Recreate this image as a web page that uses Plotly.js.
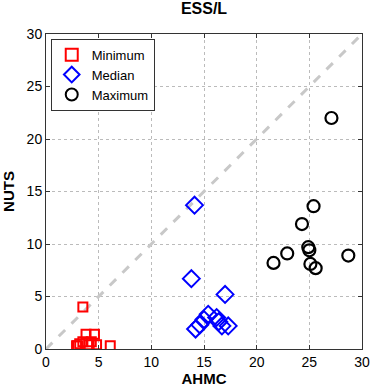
<!DOCTYPE html>
<html>
<head>
<meta charset="utf-8">
<script src="https://cdn.plot.ly/plotly-3.0.1.min.js"></script>
<style>
  html, body { margin: 0; padding: 0; background: #fff; }
  #chart { width: 374px; height: 390px; }
</style>
</head>
<body>
<div id="chart"></div>
<script>
// ESS/L values
const min_x = [3.5, 3.8, 4.6, 6.1, 2.9, 3.2, 3.5, 4.1, 4.3, 4.8, 3.0];
const min_y = [4.0, 1.4, 1.4, 0.3, 0.3, 0.5, 0.7, 0.4, 0.7, 0.4, 0.3];

const med_x = [14.1, 13.8, 17.0, 15.4, 15.0, 14.6, 14.2, 16.2, 16.4, 16.7, 17.3];
const med_y = [13.7, 6.7, 5.2, 3.3, 2.8, 2.3, 1.9, 3.0, 2.6, 2.2, 2.2];

const max_x = [27.1, 25.4, 24.3, 24.9, 25.0, 22.9, 21.6, 28.7, 25.1, 25.6];
const max_y = [22.0, 13.6, 11.9, 9.7, 9.4, 9.1, 8.2, 8.9, 8.1, 7.7];

const diag = [0, 30];

const font = "Liberation Sans, Arial, sans-serif";

const diagonal = {
    x: diag,
    y: diag,
    mode: "lines",
    type: "scatter",
    showlegend: false,
    hoverinfo: "skip",
    line: { color: "#c8c8c8", width: 3, dash: "dash" },
};

const minimum = {
    name: "Minimum",
    x: min_x,
    y: min_y,
    mode: "markers",
    type: "scatter",
    marker: { symbol: "square-open", size: 9, color: "red", line: { width: 2, color: "red" } },
};

const median = {
    name: "Median",
    x: med_x,
    y: med_y,
    mode: "markers",
    type: "scatter",
    marker: { symbol: "diamond-open", size: 13, color: "blue", line: { width: 2, color: "blue" } },
};

const maximum = {
    name: "Maximum",
    x: max_x,
    y: max_y,
    mode: "markers",
    type: "scatter",
    marker: { symbol: "circle-open", size: 12, color: "black", line: { width: 2.2, color: "black" } },
};

const axis = {
    range: [0, 30],
    dtick: 5,
    tick0: 0,
    ticks: "inside",
    ticklen: 4,
    tickcolor: "#333",
    mirror: "ticks",
    showline: true,
    linecolor: "#333",
    linewidth: 1,
    showgrid: true,
    gridcolor: "#bbb",
    griddash: "dot",
    gridwidth: 1,
    zeroline: false,
    tickfont: { family: font, size: 14, color: "#000" },
};

const layout = {
    width: 374,
    height: 390,
    margin: { l: 46, r: 12, t: 34, b: 41 },
    paper_bgcolor: "#fff",
    plot_bgcolor: "#fff",
    font: { family: font, color: "#000" },
    title: {
        text: "<b>ESS/L</b>",
        font: { family: font, size: 16, color: "#000" },
        x: 0.5,
        xref: "paper",
        y: 0.978,
        yref: "container",
        yanchor: "middle",
    },
    xaxis: { ...axis, title: { text: "<b>AHMC</b>", font: { family: font, size: 15 }, standoff: 2 } },
    yaxis: { ...axis, title: { text: "<b>NUTS</b>", font: { family: font, size: 15 }, standoff: 8 } },
    showlegend: true,
    legend: {
        x: 0.015,
        y: 0.985,
        xanchor: "left",
        yanchor: "top",
        bgcolor: "#fff",
        bordercolor: "#333",
        borderwidth: 1,
        font: { family: font, size: 13, color: "#000" },
        tracegroupgap: 0,
        itemsizing: "constant",
    },
};

Plotly.newPlot("chart", [diagonal, minimum, median, maximum], layout, { displayModeBar: false, staticPlot: true });
</script>
</body>
</html>
